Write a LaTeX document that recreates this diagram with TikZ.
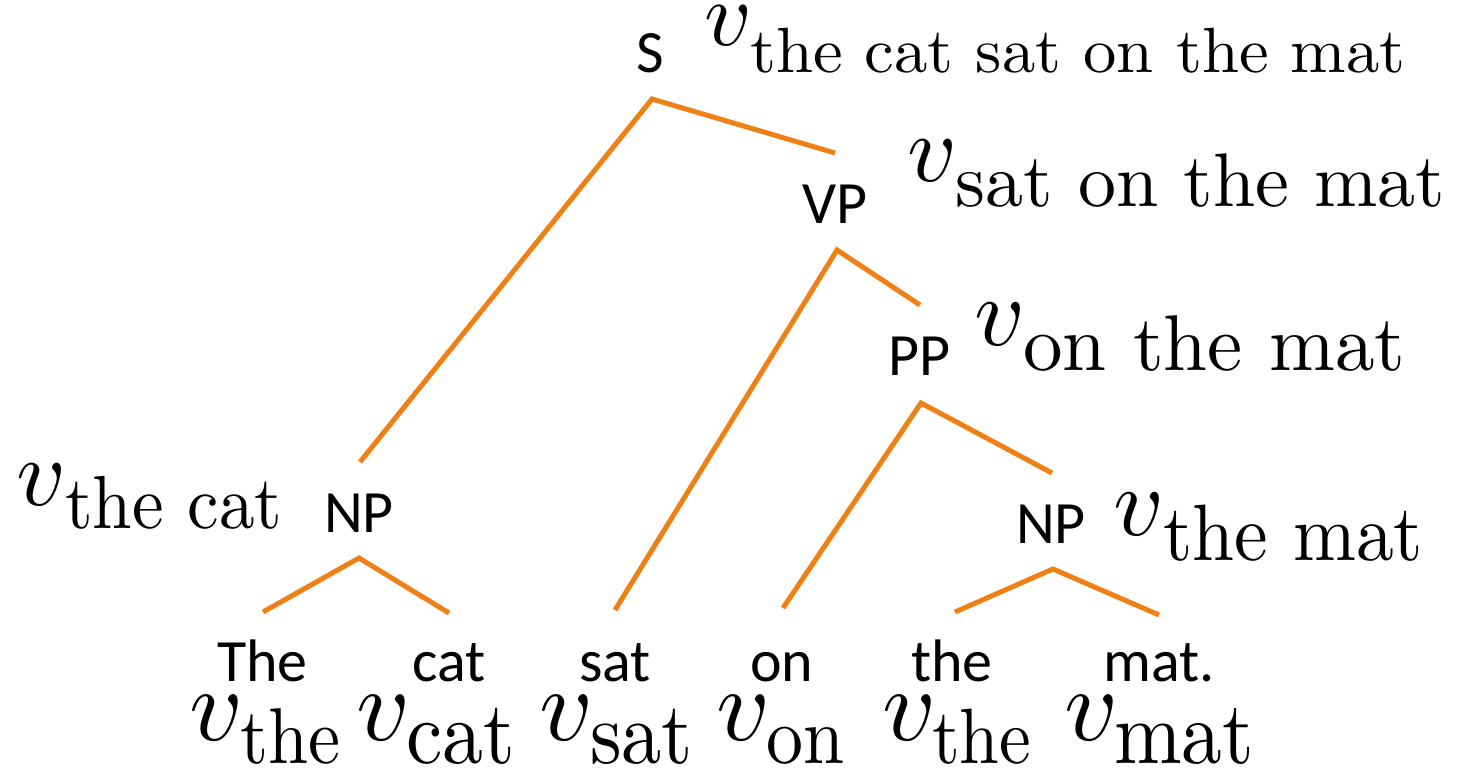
\documentclass[tikz,border=0pt]{standalone}
\usepackage{fontspec}
\usepackage{graphicx}
\newfontfamily\labfont{Carlito}
\definecolor{treeorange}{RGB}{238,128,22}
\tikzset{
  branch/.style={draw=treeorange, line width=5pt, line join=miter},
  cat/.style={inner sep=0pt, anchor=base, font=\labfont\fontsize{60}{62}\selectfont},
  word/.style={inner sep=0pt, anchor=base west, font=\labfont\fontsize{60}{62}\selectfont},
  vsym/.style={inner sep=0pt, anchor=base west},
  vsub/.style={inner sep=0pt, anchor=base west},
}
\newcommand{\vv}[1]{\scalebox{#1}{$v$}}
\newcommand{\sub}[3]{\scalebox{1}[#2]{\resizebox{#1pt}{!}{\fontsize{10}{12}\selectfont #3}}}
\begin{document}
\begin{tikzpicture}[x=1pt,y=-1pt]
\useasboundingbox (0,0) rectangle (1462,769);
% category labels
\node[cat] (S) at (650,72) {S};
\node[cat] (VP) at (835,223) {VP};
\node[cat] (PP) at (919,375) {PP};
\node[cat] (NPl) at (359,532) {NP};
\node[cat] (NPr) at (1051,543) {NP};
% words
\node[word] (wThe) at (217,681) {The};
\node[word] (wcat) at (412,681) {cat};
\node[word] (wsat) at (579,681) {sat};
\node[word] (won) at (750,681) {on};
\node[word] (wthe) at (911,681) {the};
\node[word] (wmat) at (1103,681) {mat.};
% vector labels
\node[vsym] (vS) at (704,45) {\vv{9.2}};
\node[vsub] (vSs) at (750,72) {\sub{655}{0.96}{the cat sat on the mat}};
\node[vsym] (vVP) at (907,181) {\vv{9.6}};
\node[vsub] (vVPs) at (955,206) {\sub{490}{1.0}{sat on the mat}};
\node[vsym] (vPP) at (974,345) {\vv{9.8}};
\node[vsub] (vPPs) at (1023,370) {\sub{382}{1.0}{on the mat}};
\node[vsym] (vNPl) at (16,505) {\vv{9.6}};
\node[vsub] (vNPls) at (65,528) {\sub{217}{1.06}{the cat}};
\node[vsym] (vNPr) at (1113,535) {\vv{9.8}};
\node[vsub] (vNPrs) at (1163,560) {\sub{260}{1.06}{the mat}};
\node[vsym] (v1) at (189,740) {\vv{10.4}};
\node[vsub] (v1s) at (240,763) {\sub{100}{1.1}{the}};
\node[vsym] (v2) at (356,740) {\vv{10.4}};
\node[vsub] (v2s) at (406,763) {\sub{109}{1.1}{cat}};
\node[vsym] (v3) at (539,740) {\vv{10.4}};
\node[vsub] (v3s) at (590,763) {\sub{103}{1.1}{sat}};
\node[vsym] (v4) at (716,740) {\vv{10.4}};
\node[vsub] (v4s) at (766,763) {\sub{78}{1.1}{on}};
\node[vsym] (v5) at (882,740) {\vv{10.4}};
\node[vsub] (v5s) at (932,763) {\sub{99}{1.1}{the}};
\node[vsym] (v6) at (1064,740) {\vv{10.4}};
\node[vsub] (v6s) at (1114,763) {\sub{140}{1.1}{mat}};
% branch points
\coordinate (cS) at (652,99);
\coordinate (cVP) at (837,250);
\coordinate (cPP) at (921,403);
\coordinate (cNPl) at (359,558);
\coordinate (cNPr) at (1053,569);
\coordinate (eNPl) at (360,462);
\coordinate (eVP) at (835,153);
\coordinate (esat) at (615,610);
\coordinate (ePP) at (920,305);
\coordinate (eon) at (783,608);
\coordinate (eNPr) at (1052,473);
\coordinate (eThe) at (263,612);
\coordinate (ecat) at (449,613);
\coordinate (ethe) at (955,612);
\coordinate (emat) at (1159,615);
% branches
\draw[branch] (eNPl) -- (cS) -- (eVP);
\draw[branch] (esat) -- (cVP) -- (ePP);
\draw[branch] (eon) -- (cPP) -- (eNPr);
\draw[branch] (eThe) -- (cNPl) -- (ecat);
\draw[branch] (ethe) -- (cNPr) -- (emat);
\end{tikzpicture}
\end{document}
